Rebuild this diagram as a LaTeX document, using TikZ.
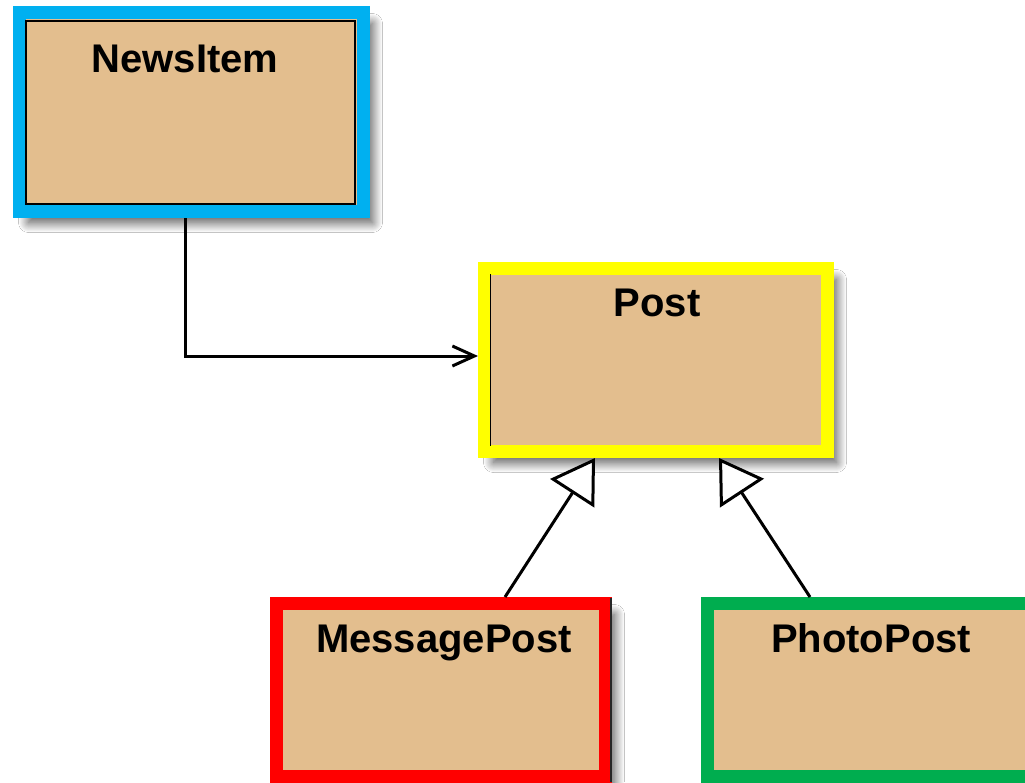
\documentclass[tikz,border=0pt]{standalone}
\usepackage{fontspec}
\setmainfont{Liberation Sans}
\usetikzlibrary{arrows.meta,calc,shadows.blur}
\definecolor{tanfill}{RGB}{227,190,142}
\definecolor{frameblue}{RGB}{0,176,240}
\definecolor{frameyellow}{RGB}{255,255,0}
\definecolor{framered}{RGB}{255,0,0}
\definecolor{framegreen}{RGB}{0,173,79}
\begin{document}
\begin{tikzpicture}[x=1pt,y=-1pt,
  classbox/.style={rectangle, fill=tanfill, line width=13pt, inner sep=0pt,
    blur shadow={shadow xshift=9pt, shadow yshift=-11pt, shadow blur radius=10pt, shadow opacity=70, shadow blur steps=20}},
  title/.style={anchor=base, inner sep=0pt, font=\fontsize{40}{48}\selectfont\bfseries},
  conn/.style={line width=3pt, black},
  innerline/.style={line width=1.6pt, black}]
\fill[white] (0,0) rectangle (1025,782);
\useasboundingbox (0,0) rectangle (1025,782);
% class boxes
\node[classbox, draw=frameblue, minimum width=344pt, minimum height=199pt] (newsitem) at (191.5,112) {};
\node[classbox, draw=frameyellow, minimum width=343pt, minimum height=183pt] (post) at (656,360) {};
\node[classbox, draw=framered, minimum width=329pt, minimum height=173pt] (mp) at (441,690) {};
\node[classbox, draw=framegreen, minimum width=329pt, minimum height=173pt] (pp) at (872,690) {};
% thin inner lines
\draw[innerline] (26,21) rectangle (355,204);
\draw[innerline] (490.5,274) -- (490.5,446);
\draw[line width=2.5pt, black!85] (611,598) -- (611,782);
% titles
\node[title] (newsitem-t) at (185,72) {NewsItem};
\node[title] (post-t) at (657,316) {Post};
\node[title] (mp-t) at (444,652) {MessagePost};
\node[title] (pp-t) at (871,652) {PhotoPost};
% connectors
\draw[conn, -{Straight Barb[length=22pt,width=20pt,line width=3pt]}]
  (newsitem.south -| newsitem-t) |- ($(post.west)+(0,-4)$);
\draw[conn, -{Triangle[open,fill=white,length=42pt,width=52pt,line width=3pt]}]
  ($(mp.north)+(64,0)$) -- ($(post.south)+(-61,0)$);
\draw[conn, -{Triangle[open,fill=white,length=42pt,width=52pt,line width=3pt]}]
  ($(pp.north)+(-62,0)$) -- ($(post.south)+(63,0)$);
\end{tikzpicture}
\end{document}
